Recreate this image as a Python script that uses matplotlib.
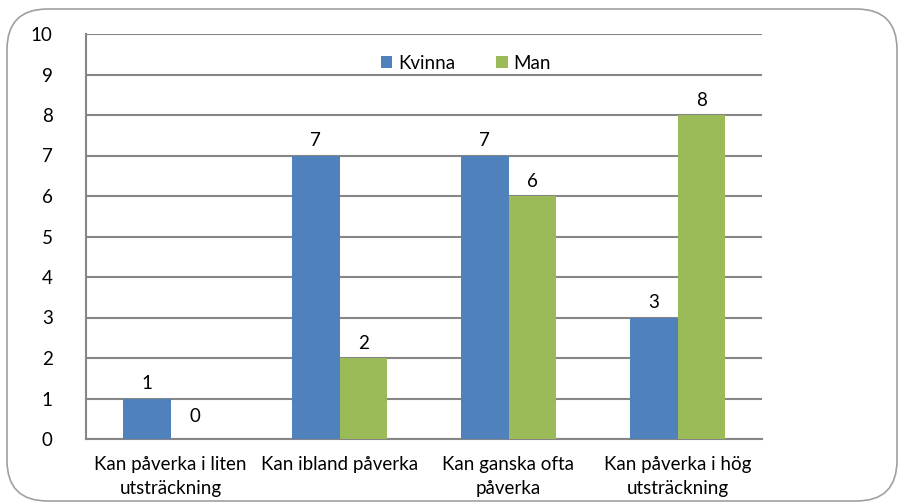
import numpy as np
import matplotlib.pyplot as plt
from matplotlib.patches import FancyBboxPatch

categories = ["Kan påverka i liten\nutsträckning", "Kan ibland påverka",
              "Kan ganska ofta\npåverka", "Kan påverka i hög\nutsträckning"]
kvinna = [1, 7, 7, 3]
man = [0, 2, 6, 8]
yticks = list(range(0, 11))

plt.rcParams['font.family'] = ['Lato', 'DejaVu Sans']
fs = 13.5

fig = plt.figure(figsize=(9, 5.04), dpi=100)
# rounded chart frame
frame = FancyBboxPatch((7 / 900, 3 / 504), 890 / 900, 492 / 504,
                       boxstyle="round,pad=0,rounding_size=0.045",
                       transform=fig.transFigure, facecolor='white',
                       edgecolor='#A0A0A0', linewidth=1.2, mutation_aspect=900 / 504,
                       zorder=-5)
fig.patches.append(frame)

ax = fig.add_axes([86 / 900, 1 - 439 / 504, 676 / 900, 405 / 504])
ax.set_zorder(2)
ax.set_facecolor('none')

x = np.arange(len(categories))
w = 0.284
b1 = ax.bar(x - w / 2, kvinna, w, color='#4F81BD', label='Kvinna', zorder=3)
b2 = ax.bar(x + w / 2, man, w, color='#9BBB59', label='Man', zorder=3)

for bars, vals in ((b1, kvinna), (b2, man)):
    for r, v in zip(bars, vals):
        off = 0.35 if v == 0 else 0.15
        ax.text(r.get_x() + r.get_width() / 2, v + off, str(v),
                ha='center', va='bottom', fontsize=fs, color='black')

ax.set_xlim(-0.5, len(categories) - 0.5)
ax.set_ylim(0, 10)
ax.set_yticks(yticks)
ax.set_xticks(x)
ax.set_xticklabels(categories, fontsize=fs, linespacing=1.5)
ax.tick_params(axis='y', length=0, labelsize=fs, pad=24)
ax.tick_params(axis='x', length=0, pad=12)
ax.grid(axis='y', color='#868686', linewidth=1.5, zorder=0)
for s in ['top', 'right']:
    ax.spines[s].set_visible(False)
for s in ['left', 'bottom']:
    ax.spines[s].set_color('#868686')
    ax.spines[s].set_linewidth(1.5)

ax.legend(loc='upper center', bbox_to_anchor=(0.562, 0.99), ncol=2, frameon=False,
          fontsize=fs, handlelength=0.6, handleheight=0.6, columnspacing=2.2,
          handletextpad=0.3)

fig.savefig('out.png', dpi=100)
